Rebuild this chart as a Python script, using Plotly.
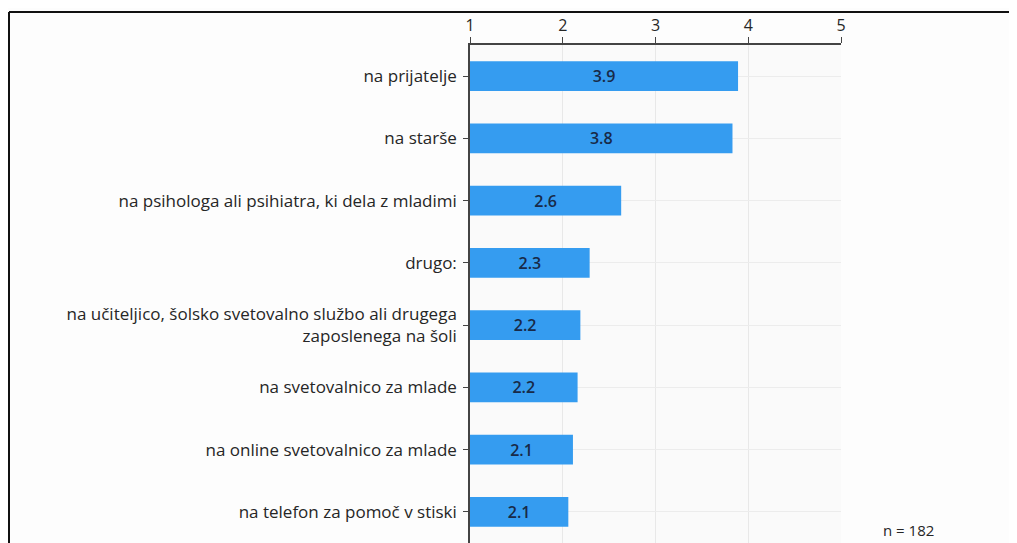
import plotly.graph_objects as go

categories = [
    "na prijatelje",
    "na starše",
    "na psihologa ali psihiatra, ki dela z mladimi",
    "drugo:",
    "na učiteljico, šolsko svetovalno službo ali drugega<br>zaposlenega na šoli",
    "na svetovalnico za mlade",
    "na online svetovalnico za mlade",
    "na telefon za pomoč v stiski",
]
means = [3.89, 3.83, 2.63, 2.29, 2.19, 2.16, 2.11, 2.06]
scale_min = 1
scale_ticks = [1, 2, 3, 4, 5]
n_note = "n = 182"

# the page body adds an 8px margin, so the figure is laid out in its own pixels
W, H = 1009, 535
ML, MR, MT, MB = 462, 176, 37, 0
pw, ph = W - ML - MR, H - MT - MB


def px_x(p):
    return (p - ML) / pw


def px_y(p):
    return 1 - (p - MT) / ph


fig = go.Figure(
    go.Bar(
        y=categories,
        x=[m - scale_min for m in means],
        base=scale_min,
        orientation="h",
        width=0.48,
        marker=dict(color="#359cf0", line=dict(width=0)),
        text=[f"{m:.1f}" for m in means],
        textposition="inside",
        insidetextanchor="middle",
        textfont=dict(color="#182a48", size=16, family="Open Sans", weight=600),
        showlegend=False,
    )
)

fig.update_layout(
    width=W,
    height=H,
    margin=dict(l=ML, r=MR, t=MT, b=MB),
    paper_bgcolor="#fdfdfd",
    plot_bgcolor="#fafafa",
    font=dict(family="Open Sans", size=17, color="#262626"),
    xaxis=dict(
        side="top",
        range=[1, 5],
        tickvals=scale_ticks,
        showgrid=True,
        gridcolor="#e8e8e8",
        zeroline=False,
        showline=True,
        linecolor="#444444",
        linewidth=1.5,
        ticks="outside",
        ticklen=6,
        tickcolor="#444444",
        tickfont=dict(size=16, color="#262626"),
    ),
    yaxis=dict(
        autorange="reversed",
        showgrid=True,
        gridcolor="#ececec",
        showline=True,
        linecolor="#444444",
        linewidth=1.5,
        ticks="outside",
        ticklen=5,
        tickcolor="#444444",
        ticklabelstandoff=3,
    ),
    shapes=[
        dict(type="line", xref="paper", yref="paper",
             x0=px_x(1), x1=px_x(W + 5), y0=px_y(4), y1=px_y(4),
             line=dict(color="#111111", width=2)),
        dict(type="line", xref="paper", yref="paper",
             x0=px_x(1), x1=px_x(1), y0=px_y(4), y1=px_y(H + 5),
             line=dict(color="#111111", width=2)),
    ],
    annotations=[
        dict(text=n_note, xref="paper", yref="paper", x=px_x(900), y=px_y(522),
             xanchor="center", yanchor="middle",
             showarrow=False, font=dict(size=15, color="#262626")),
    ],
)

fig.write_html("out.html")
